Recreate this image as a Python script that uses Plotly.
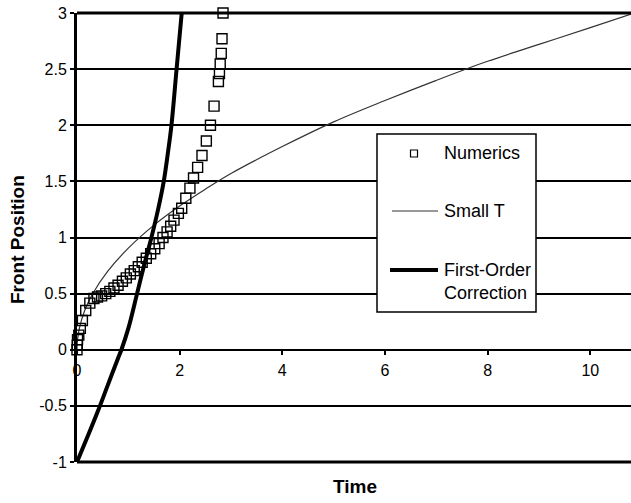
import plotly.graph_objects as go

# ---- data ----
num_t = [0.0, 0.005, 0.01, 0.035, 0.065, 0.105, 0.17, 0.25, 0.33, 0.40, 0.48, 0.56, 0.64,
         0.72, 0.80, 0.885, 0.96, 1.04, 1.115, 1.195, 1.27, 1.35, 1.435, 1.515, 1.60,
         1.675, 1.755, 1.825, 1.89, 1.975, 2.04, 2.12, 2.20, 2.27, 2.35, 2.435, 2.52,
         2.60, 2.67, 2.755, 2.775, 2.79, 2.81, 2.825, 2.845]
num_y = [0.0, 0.04, 0.09, 0.13, 0.19, 0.26, 0.35, 0.415, 0.457, 0.47, 0.48, 0.50, 0.52,
         0.55, 0.575, 0.61, 0.64, 0.675, 0.705, 0.74, 0.78, 0.815, 0.855, 0.90, 0.945,
         1.0, 1.05, 1.10, 1.155, 1.215, 1.26, 1.35, 1.44, 1.53, 1.625, 1.73, 1.86,
         2.0, 2.17, 2.39, 2.46, 2.545, 2.64, 2.77, 3.0]

small_t = [0.0, 0.01, 0.05, 0.15, 0.3, 0.6, 1.0, 1.5, 2.0, 2.5, 3.0, 4.0, 5.0, 6.0,
           7.0, 8.0, 9.0, 10.0, 10.8]
small_y = [0.0, 0.09, 0.20, 0.35, 0.495, 0.70, 0.905, 1.11, 1.28, 1.43, 1.57, 1.81,
           2.03, 2.22, 2.40, 2.57, 2.72, 2.87, 2.99]

first_t = [0.0, 0.2, 0.4, 0.6, 0.8, 0.865, 1.0, 1.17, 1.30, 1.45, 1.58, 1.69, 1.77,
           1.84, 1.94, 2.04]
first_y = [-1.0, -0.78, -0.555, -0.315, -0.075, 0.0, 0.19, 0.5, 0.74, 1.0, 1.25, 1.5, 1.75,
           2.0, 2.5, 3.0]

x_ticks = [0, 2, 4, 6, 8, 10]
y_ticks = [-1, -0.5, 0, 0.5, 1, 1.5, 2, 2.5, 3]
y_tick_text = ["-1", "-0.5", "0", "0.5", "1", "1.5", "2", "2.5", "3"]

legend_names = ["Numerics", "Small T", "First-Order", "Correction"]

FONT = "Liberation Sans, Arial, sans-serif"
W, H = 631, 503
ML, MR, MT, MB = 77, 0, 13, 41
PW, PH = W - ML - MR, H - MT - MB


def px(x):
    return (x - ML) / PW


def py(y):
    return (H - MB - y) / PH


fig = go.Figure()

fig.add_trace(go.Scatter(
    x=small_t, y=small_y, mode="lines", line=dict(color="#333333", width=1.2, shape="spline"),
    showlegend=False, hoverinfo="skip"))
fig.add_trace(go.Scatter(
    x=first_t, y=first_y, mode="lines", line=dict(color="black", width=4, shape="spline"),
    showlegend=False, hoverinfo="skip"))
fig.add_trace(go.Scatter(
    x=num_t, y=num_y, mode="markers", cliponaxis=False,
    marker=dict(symbol="square-open", size=10, color="black", line=dict(width=1.4, color="black")),
    showlegend=False, hoverinfo="skip"))

shapes = [
    # plot frame (top and bottom)
    dict(type="line", xref="paper", yref="paper", x0=0, x1=1, y0=1, y1=1,
         line=dict(color="black", width=3), layer="above"),
    dict(type="line", xref="paper", yref="paper", x0=0, x1=1, y0=0, y1=0,
         line=dict(color="black", width=3), layer="above"),
    # legend box
    dict(type="rect", xref="paper", yref="paper", x0=px(377), x1=px(536), y0=py(312), y1=py(134),
         line=dict(color="black", width=1.5), fillcolor="white", layer="above"),
    dict(type="rect", xref="paper", yref="paper", x0=px(410.5), x1=px(417.5), y0=py(157), y1=py(150),
         line=dict(color="black", width=1.2), fillcolor="white", layer="above"),
    dict(type="line", xref="paper", yref="paper", x0=px(392), x1=px(438), y0=py(211), y1=py(211),
         line=dict(color="#333333", width=1.2), layer="above"),
    dict(type="line", xref="paper", yref="paper", x0=px(390), x1=px(438), y0=py(270), y1=py(270),
         line=dict(color="black", width=4), layer="above"),
]

annotations = [
    dict(text="<b>Time</b>", xref="paper", yref="paper", x=px(355), y=py(487), showarrow=False,
         font=dict(family=FONT, size=19, color="black"), xanchor="center", yanchor="middle"),
    dict(text="<b>Front Position</b>", xref="paper", yref="paper", x=px(17), y=py(240),
         showarrow=False, textangle=-90, font=dict(family=FONT, size=19, color="black"),
         xanchor="center", yanchor="middle"),
]
leg_pos = [(442, 153), (442, 211), (442, 270), (442, 293)]
for name, (lx, ly) in zip(legend_names, leg_pos):
    annotations.append(dict(text=name, xref="paper", yref="paper", x=px(lx), y=py(ly),
                            showarrow=False, xanchor="left", yanchor="middle",
                            font=dict(family=FONT, size=18, color="black")))

fig.update_layout(
    width=W, height=H,
    margin=dict(l=ML, r=MR, t=MT, b=MB, pad=0),
    paper_bgcolor="white", plot_bgcolor="white",
    font=dict(family=FONT, size=16, color="black"),
    shapes=shapes, annotations=annotations, showlegend=False,
    xaxis=dict(range=[0, PW / 51.33], tickvals=x_ticks, ticktext=[str(v) for v in x_ticks],
               anchor="free", position=(H - MB - 350) / PH,
               showline=True, linecolor="black", linewidth=2, showgrid=False, zeroline=False,
               ticks="outside", ticklen=4, tickwidth=1.5, tickcolor="black",
               ticklabelstandoff=2, tickfont=dict(family=FONT, size=16, color="black")),
    yaxis=dict(range=[-1, 3], tickvals=y_ticks, ticktext=y_tick_text,
               showline=True, linecolor="black", linewidth=3,
               showgrid=True, gridcolor="black", gridwidth=1.6, zeroline=False,
               ticks="outside", ticklen=4, tickwidth=1.6, tickcolor="black",
               tickfont=dict(family=FONT, size=16, color="black")),
)

fig.write_html("out.html", config={"displayModeBar": False},
               post_script="document.body.style.margin='0';")
